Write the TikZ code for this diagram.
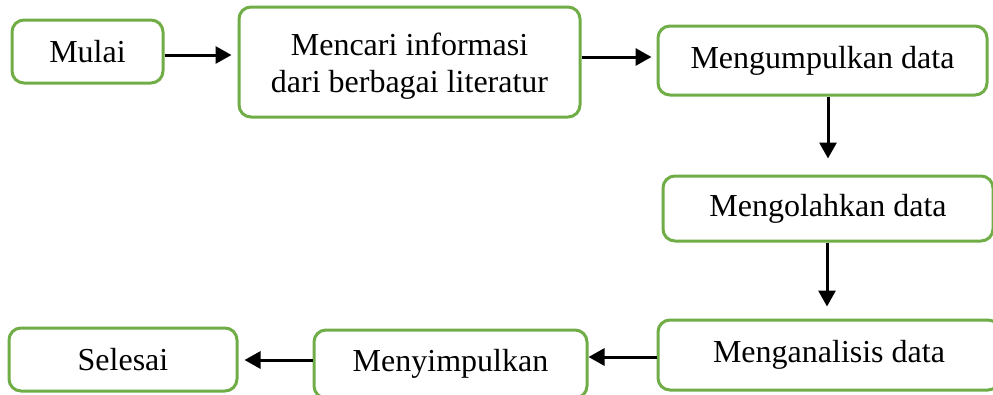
\documentclass[tikz,border=0pt]{standalone}
\usepackage{fontspec}
\setmainfont{Liberation Serif}
\usetikzlibrary{arrows.meta,calc}
\definecolor{boxgreen}{HTML}{70AD47}
\begin{document}
\begin{tikzpicture}[x=1pt,y=-1pt,
  box/.style={draw=boxgreen,line width=3pt,rounded corners=12pt,fill=white,
    inner sep=0pt,align=center,font=\fontsize{32}{37}\selectfont},
  arr/.style={line width=3pt,-{Triangle[length=16pt,width=17pt]}}]
\clip (0,0) rectangle (993,394);
\fill[white] (0,0) rectangle (993,394);
\node[box,minimum width=151pt,minimum height=63pt] (mulai) at (87.5,51.5) {Mulai};
\node[box,minimum width=341pt,minimum height=110pt] (cari) at (409.5,62) {\rule{0pt}{30pt}Mencari informasi\\dari berbagai literatur};
\node[box,minimum width=329pt,minimum height=69pt] (kumpul) at (822.5,60.5) {Mengumpulkan data};
\node[box,minimum width=330pt,minimum height=65pt] (olah) at (828,208.5) {Mengolahkan data};
\node[box,minimum width=342pt,minimum height=70pt] (analisis) at (829,355) {Menganalisis data};
\node[box,minimum width=273pt,minimum height=68pt] (simpul) at (450.5,364) {Menyimpulkan};
\node[box,minimum width=228pt,minimum height=63pt] (selesai) at (123,359.5) {Selesai};
\draw[arr,shorten >=6pt] (mulai.east |- 0,55) -- (cari.west |- 0,55);
\draw[arr,shorten >=5pt] (cari.east |- 0,57) -- (kumpul.west |- 0,57);
\draw[arr,shorten >=16pt] (kumpul.south -| 828,0) -- (olah.north -| 828,0);
\draw[arr,shorten >=12pt] (olah.south -| 827,0) -- (analisis.north -| 827,0);
\draw[arr] (analisis.west |- 0,357) -- (simpul.east |- 0,357);
\draw[arr,shorten >=6pt] (simpul.west |- 0,360) -- (selesai.east |- 0,360);
\end{tikzpicture}
\end{document}
